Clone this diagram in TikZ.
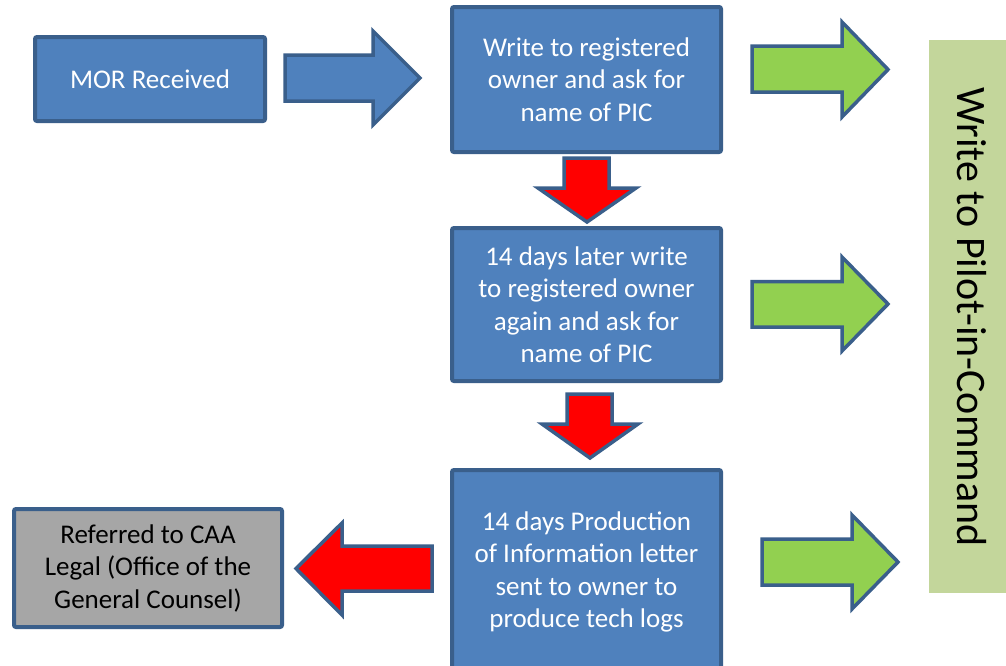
\documentclass[tikz,border=0pt]{standalone}
\usepackage{fontspec}
\setmainfont{Carlito}
\definecolor{boxblue}{HTML}{4F81BD}
\definecolor{edgeblue}{HTML}{3A5F8B}
\definecolor{gogreen}{HTML}{92D050}
\definecolor{stopred}{HTML}{FF0000}
\definecolor{legalgrey}{HTML}{A6A6A6}
\definecolor{pilotgreen}{HTML}{C3D69B}
\tikzset{
  stepbox/.style={draw=edgeblue, line width=4pt, rounded corners=2pt, fill=boxblue,
    text=white, align=center, inner sep=0pt,
    font=\fontsize{27}{32.5}\selectfont},
  legalbox/.style={stepbox, fill=legalgrey, text=black},
  blockarrow/.style={draw=edgeblue, line width=3.5pt, line join=miter, miter limit=10},
}
\begin{document}
\begin{tikzpicture}[x=1pt, y=-1pt]
  \clip (0,0) rectangle (1006,665);
  \fill[white] (0,0) rectangle (1006,665);

  % process boxes
  \node[stepbox, minimum width=230pt, minimum height=84pt] (mor) at (150,79) {MOR Received};
  \node[stepbox, minimum width=269pt, minimum height=145pt] (ask1) at (586.5,79.5)
    {Write to registered\\owner and ask for\\name of PIC};
  \node[stepbox, minimum width=269pt, minimum height=153pt] (ask2) at (586.5,304.5)
    {14 days later write\\to registered owner\\again and ask for\\name of PIC};
  \node[stepbox, minimum width=269pt, minimum height=204pt] (prod) at (586.5,572)
    {14 days Production\\of Information letter\\sent to owner to\\produce tech logs};
  \node[legalbox, minimum width=268pt, minimum height=118pt] (legal) at (148,568)
    {Referred to CAA\\Legal (Office of the\\General Counsel)};

  % outcome column
  \fill[pilotgreen] (929,40) rectangle (1010,593);
  \node[rotate=-90, font=\fontsize{42}{48}\selectfont, inner sep=0pt] (pilot) at (972,317)
    {Write to Pilot-in-Command};

  % block arrows: MOR -> first letter
  \draw[blockarrow, fill=boxblue] (285,55) -- (373,55) -- (373,31) -- (420,78)
    -- (373,125) -- (373,101) -- (285,101) -- cycle;

  % block arrows: to pilot
  \draw[blockarrow, fill=gogreen] (752,46) -- (842,46) -- (842,22) -- (888,69.5)
    -- (842,117) -- (842,92) -- (752,92) -- cycle;
  \draw[blockarrow, fill=gogreen] (752,281.5) -- (842,281.5) -- (842,257) -- (888,304)
    -- (842,351) -- (842,327) -- (752,327) -- cycle;
  \draw[blockarrow, fill=gogreen] (762,539) -- (852,539) -- (852,515) -- (898,562)
    -- (852,609) -- (852,585) -- (762,585) -- cycle;

  % block arrows: escalation downwards
  \draw[blockarrow, fill=stopred] (564,158) -- (609,158) -- (609,188) -- (636,188)
    -- (587,222) -- (538,188) -- (564,188) -- cycle;
  \draw[blockarrow, fill=stopred] (567,394) -- (612,394) -- (612,424) -- (638,424)
    -- (590,458) -- (542,424) -- (567,424) -- cycle;

  % block arrow: to legal
  \draw[blockarrow, fill=stopred] (432,546) -- (342,546) -- (342,523) -- (296,568.5)
    -- (342,615) -- (342,591) -- (432,591) -- cycle;
\end{tikzpicture}
\end{document}
